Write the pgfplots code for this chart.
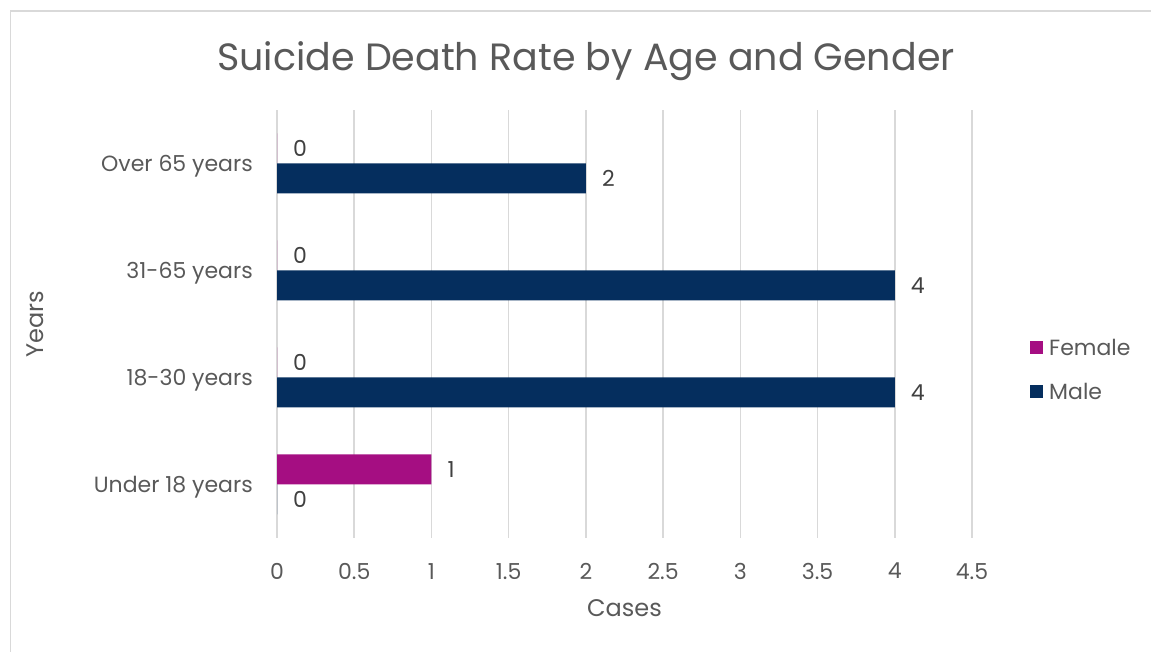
\documentclass[border=0pt]{standalone}
\usepackage{fontspec}
\setmainfont{Poppins}
\usepackage{pgfplots}
\pgfplotsset{compat=1.18}
\definecolor{txt}{HTML}{595959}
\definecolor{lbl}{HTML}{404040}
\definecolor{gridc}{HTML}{D9D9D9}
\definecolor{female}{HTML}{A50E82}
\definecolor{male}{HTML}{052E5E}
\begin{document}
\begin{tikzpicture}[x=1pt,y=1pt]
\useasboundingbox (0,0) rectangle (1151,652);
\draw[gridc, line width=1.5pt] (10.5,0) -- (10.5,641) -- (1151,641);
\node[text=txt, font=\fontsize{38}{44}\selectfont] at (586,591) {Suicide Death Rate by Age and Gender};
\begin{axis}[
    at={(277pt,114pt)}, anchor=south west,
    scale only axis, width=695pt, height=428pt,
    xbar, bar width=30pt,
    xmin=0, xmax=4.5, ymin=-0.5, ymax=3.5,
    xtick={0,0.5,1,1.5,2,2.5,3,3.5,4,4.5},
    ytick={0,1,2,3},
    yticklabels={Under 18 years,18-30 years,31-65 years,Over 65 years},
    xmajorgrids, grid style={gridc, line width=1.5pt},
    axis line style={draw=none},
    major tick length=0pt,
    tick label style={text=txt, font=\fontsize{22}{26}\selectfont, inner sep=0pt},
    /pgf/number format/assume math mode=true,
    yticklabel shift=24pt,
    yticklabel style={yshift=-3pt},
    xticklabel shift=25pt,
    xlabel={Cases}, ylabel={Years},
    label style={text=txt, font=\fontsize{24}{28}\selectfont},
    xlabel style={at={(axis description cs:0.5,-0.163)}, anchor=center},
    ylabel style={at={(axis description cs:-0.348,0.5)}, anchor=center},
    nodes near coords,
    every node near coord/.append style={anchor=west, inner sep=0pt, xshift=16pt,
        text=lbl, font=\fontsize{22}{26}\selectfont},
    legend style={at={(axis description cs:1.0835,0.393)}, anchor=west,
        draw=none, fill=none, inner sep=0pt, row sep=26pt,
        font=\fontsize{22}{26}\selectfont, text=txt,
        nodes={inner sep=0pt, anchor=west}},
    legend cell align=left,
    legend image code/.code={\fill[#1] (0pt,-6.5pt) rectangle (13pt,6.5pt);},
]
\addplot[fill=female, draw=none, bar shift=15pt] coordinates {(1,0) (0,1) (0,2) (0,3)};
\addlegendentry{\hspace{6pt}Female}
\addplot[fill=male, draw=none, bar shift=-15pt] coordinates {(0,0) (4,1) (4,2) (2,3)};
\addlegendentry{\hspace{6pt}Male}
\end{axis}
\end{tikzpicture}
\end{document}
